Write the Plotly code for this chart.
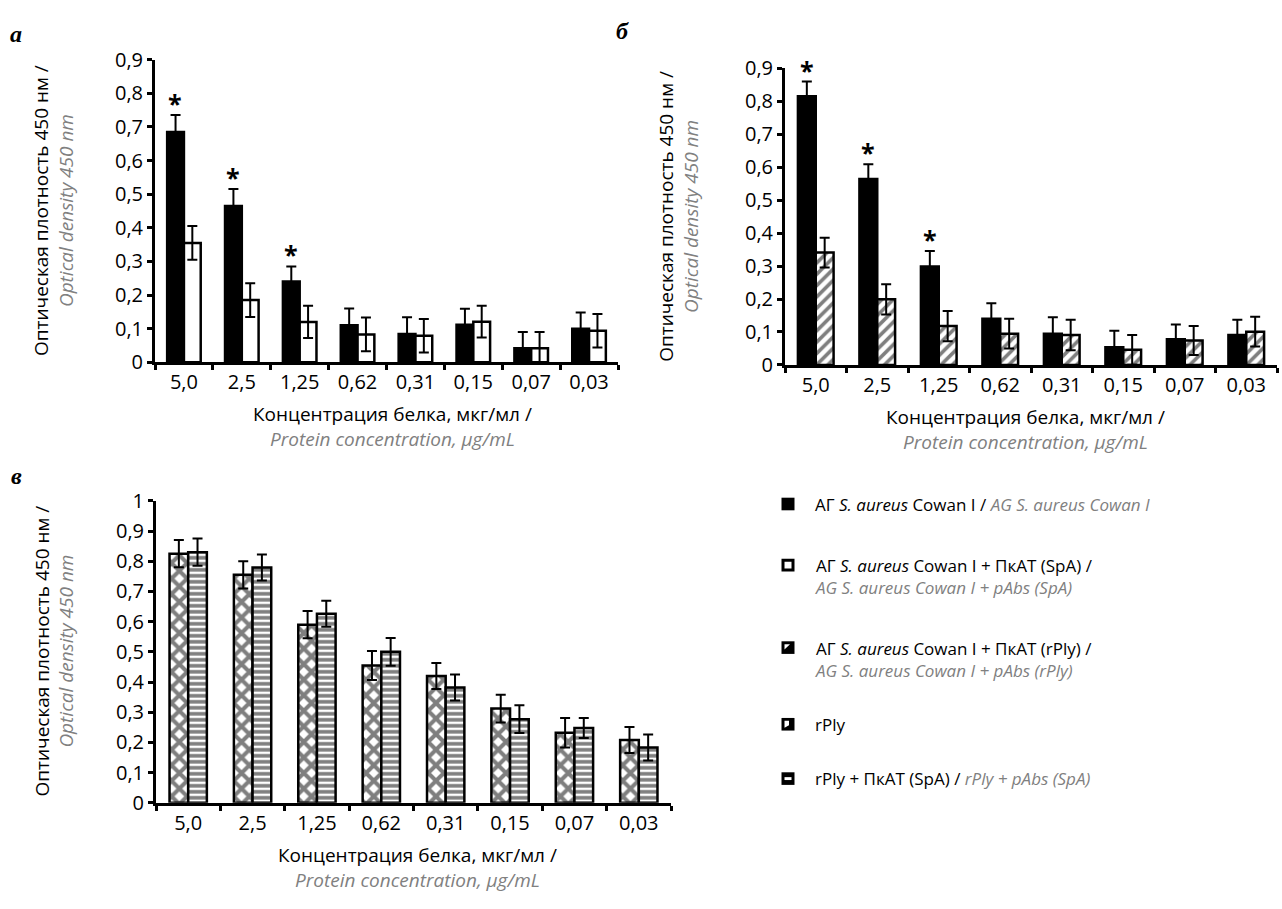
import plotly.graph_objects as go

W, H = 1282, 909

# ---------------- data ----------------
categories = ["5,0", "2,5", "1,25", "0,62", "0,31", "0,15", "0,07", "0,03"]

# panel а
a_ag = [0.685, 0.465, 0.24, 0.11, 0.084, 0.112, 0.042, 0.10]
a_ag_err = [0.05, 0.05, 0.045, 0.05, 0.05, 0.047, 0.048, 0.048]
a_spa = [0.355, 0.185, 0.12, 0.083, 0.079, 0.121, 0.042, 0.094]
a_spa_err = [0.05, 0.05, 0.048, 0.05, 0.05, 0.047, 0.048, 0.05]
a_sig = [True, True, True, False, False, False, False, False]

# panel б
b_ag = [0.815, 0.564, 0.299, 0.14, 0.095, 0.054, 0.078, 0.091]
b_ag_err = [0.045, 0.045, 0.047, 0.047, 0.05, 0.05, 0.045, 0.046]
b_rply = [0.341, 0.199, 0.118, 0.095, 0.091, 0.046, 0.074, 0.101]
b_rply_err = [0.045, 0.046, 0.046, 0.045, 0.046, 0.045, 0.044, 0.045]
b_sig = [True, True, True, False, False, False, False, False]

# panel в
c_rply = [0.825, 0.755, 0.59, 0.455, 0.42, 0.312, 0.232, 0.208]
c_rply_err = [0.045, 0.045, 0.045, 0.048, 0.043, 0.046, 0.049, 0.043]
c_rply_spa = [0.83, 0.779, 0.626, 0.50, 0.382, 0.277, 0.248, 0.183]
c_rply_spa_err = [0.045, 0.043, 0.043, 0.046, 0.043, 0.046, 0.033, 0.043]

GRAY = "#808080"
FONT = "Open Sans"


def px(x):
    return x / W


def py(y):
    return 1 - y / H


fig = go.Figure()

line = dict(color="black", width=2.5)
err_style = dict(type="data", symmetric=True, color="black", thickness=2, width=5)


def add_bar(y, err, xa, ya, color="white", pattern=None):
    marker = dict(color=color, line=line)
    if pattern:
        marker["pattern"] = pattern
    fig.add_trace(go.Bar(
        x=categories, y=y, xaxis=xa, yaxis=ya, marker=marker,
        error_y=dict(array=err, **err_style), showlegend=False,
    ))


add_bar(a_ag, a_ag_err, "x", "y", color="black")
add_bar(a_spa, a_spa_err, "x", "y", color="white")
add_bar(b_ag, b_ag_err, "x2", "y2", color="black")
add_bar(b_rply, b_rply_err, "x2", "y2", color="white",
        pattern=dict(shape="/", fgcolor="black", bgcolor="white", size=8, solidity=0.45))
add_bar(c_rply, c_rply_err, "x3", "y3", color="white",
        pattern=dict(shape="x", fgcolor="black", bgcolor="white", size=11, solidity=0.6))
add_bar(c_rply_spa, c_rply_spa_err, "x3", "y3", color="white",
        pattern=dict(shape="-", fgcolor="black", bgcolor="white", size=6, solidity=0.6))

xcommon = dict(
    type="category", showline=True, linecolor="black", linewidth=3,
    ticks="outside", tickson="boundaries", ticklen=5, tickwidth=3, tickcolor="black",
    tickfont=dict(family=FONT, size=20, color="black"), showgrid=False, zeroline=False,
    fixedrange=True,
)
ycommon = dict(
    showline=True, linecolor="black", linewidth=3, ticks="outside", ticklen=5,
    tickwidth=3, tickcolor="black", dtick=0.1, tick0=0,
    tickfont=dict(family=FONT, size=20, color="black"), showgrid=False, zeroline=False,
    fixedrange=True,
)

fig.update_layout(
    width=W, height=H, margin=dict(l=0, r=0, t=0, b=0),
    paper_bgcolor="white", plot_bgcolor="white",
    barmode="group", bargap=0.42, bargroupgap=0,
    separators=", ",
    showlegend=False,
    xaxis=dict(domain=[px(155), px(618)], anchor="y", **xcommon),
    yaxis=dict(domain=[py(359), py(47)], range=[0, 0.9], anchor="x", **ycommon),
    xaxis2=dict(domain=[px(785), px(1277)], anchor="y2", **xcommon),
    yaxis2=dict(domain=[py(361.7), py(56)], range=[0, 0.9], anchor="x2", **ycommon),
    xaxis3=dict(domain=[px(156), px(671)], anchor="y3", **xcommon),
    yaxis3=dict(domain=[py(813), py(501.7)], range=[0, 1.0], anchor="x3", **ycommon),
)

ann = []


def text_px(x, y, text, size=19, xanchor="center", yanchor="middle", align="center",
            angle=0, family=FONT):
    ann.append(dict(
        x=px(x), y=py(y), xref="paper", yref="paper", text=text, showarrow=False,
        xanchor=xanchor, yanchor=yanchor, align=align, textangle=angle,
        font=dict(family=family, size=size, color="black"),
    ))


ytitle = ("Оптическая плотность 450 нм /<br>"
          f"<span style='color:{GRAY}'><i>Optical density 450 nm</i></span>")
xtitle = ("Концентрация белка, мкг/мл /<br>"
          f"<span style='color:{GRAY}'><i>Protein concentration, μg/mL</i></span>")

text_px(54, 203, ytitle, angle=-90)
text_px(679, 209, ytitle, angle=-90)
text_px(54, 657, ytitle, angle=-90)

text_px(392, 425, xtitle)
text_px(1025, 428, xtitle)
text_px(418, 880, xtitle)

# panel letters
text_px(16, 21, "<b><i>а</i></b>", size=24, family="Liberation Serif")
text_px(622, 18, "<b><i>б</i></b>", size=24, family="Liberation Serif")
text_px(16, 476, "<b><i>в</i></b>", size=24, family="Liberation Serif")

# significance stars
for xa, ya, vals, errs, sig in [("x", "y", a_ag, a_ag_err, a_sig),
                                 ("x2", "y2", b_ag, b_ag_err, b_sig)]:
    for c, v, e, s in zip(categories, vals, errs, sig):
        if s:
            ann.append(dict(
                x=c, y=v + e, xref=xa, yref=ya, text="<b>*</b>", showarrow=False,
                xanchor="center", yanchor="bottom", xshift=-9, yshift=-7,
                font=dict(family=FONT, size=25, color="black"),
            ))

# legend
legend_items = [
    (505, "АГ <i>S. aureus</i> Cowan I / "
          f"<span style='color:{GRAY}'><i>AG S. aureus Cowan I</i></span>"),
    (580, "АГ <i>S. aureus</i> Cowan I + ПкАТ (SpA) /<br>"
          f"<span style='color:{GRAY}'><i>AG S. aureus Cowan I + pAbs (SpA)</i></span>"),
    (665, "АГ <i>S. aureus</i> Cowan I + ПкАТ (rPly) /<br>"
          f"<span style='color:{GRAY}'><i>AG S. aureus Cowan I + pAbs (rPly)</i></span>"),
    (732, "rPly"),
    (788, "rPly + ПкАТ (SpA) / "
          f"<span style='color:{GRAY}'><i>rPly + pAbs (SpA)</i></span>"),
]
for y, t in legend_items:
    text_px(813, y, t, size=17, xanchor="left", align="left")

shapes = []


def rect(x0, y0, x1, y1, fill, lw=0, lc="black"):
    shapes.append(dict(type="rect", xref="paper", yref="paper",
                       x0=px(x0), x1=px(x1), y0=py(y1), y1=py(y0),
                       fillcolor=fill, line=dict(width=lw, color=lc)))


def path(d_pts, fill):
    d = "M " + " L ".join(f"{px(a)},{py(b)}" for a, b in d_pts) + " Z"
    shapes.append(dict(type="path", xref="paper", yref="paper", path=d,
                       fillcolor=fill, line=dict(width=0)))


mx = 788
s = 6.5
# 1: solid black
rect(mx - s, 505 - s, mx + s, 505 + s, "black")
# 2: open square
rect(mx - s + 1.5, 568 - s + 1.5, mx + s - 1.5, 568 + s - 1.5, "white", lw=3)
# 3: hatched (diagonal)
yc = 653
rect(mx - s, yc - s, mx + s, yc + s, "black")
path([(mx - s + 3, yc + s - 4.5), (mx - s + 3, yc - s + 3), (mx + s - 4.5, yc - s + 3)], "white")
# 4: rPly
yc = 732
rect(mx - s, yc - s, mx + s, yc + s, "black")
path([(mx - s + 3, yc - s + 3), (mx + 1, yc - s + 3), (mx + 1, yc + 1), (mx - s + 3, yc + s - 3)], "white")
# 5: rPly + SpA (horizontal stripe)
yc = 788
rect(mx - s, yc - s, mx + s, yc + s, "black")
rect(mx - s + 3, yc - 1.5, mx + s - 3, yc + 1.5, "white")

fig.update_layout(annotations=ann, shapes=shapes)

fig.write_html("out.html")
